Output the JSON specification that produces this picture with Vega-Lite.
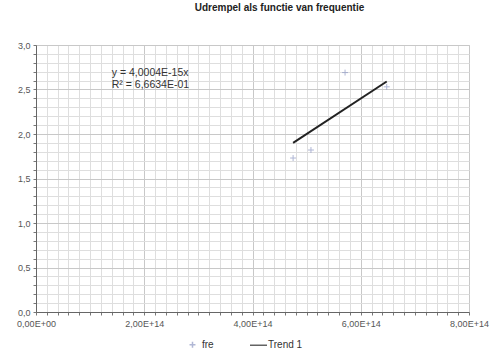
{
  "$schema": "https://vega.github.io/schema/vega-lite/v6.json",
  "width": 433,
  "height": 267,
  "autosize": "none",
  "padding": {"left": 36, "top": 45, "right": 24, "bottom": 44},
  "background": "white",
  "config": {"font": "Liberation Sans", "view": {"stroke": "#d0d0d0"}},
  "title": {"text": "Udrempel als functie van frequentie", "fontSize": 10, "fontWeight": "bold", "color": "#222", "offset": 28, "dx": 27},
  "datasets": {
    "points": [
      {"f": 4.75e14, "U": 1.73, "series": "fre"},
      {"f": 5.08e14, "U": 1.82, "series": "fre"},
      {"f": 5.71e14, "U": 2.69, "series": "fre"},
      {"f": 6.48e14, "U": 2.53, "series": "fre"}
    ],
    "trend": [
      {"f": 4.75e14, "U": 1.90},
      {"f": 6.48e14, "U": 2.59}
    ],
    "notes": [
      {"f": 1.4e14, "U": 2.69, "label": "y = 4,0004E-15x"},
      {"f": 1.4e14, "U": 2.55, "label": "R² = 6,6634E-01"}
    ]
  },
  "layer": [
    {
      "data": {"name": "points"},
      "mark": {"type": "point", "filled": false, "size": 289, "strokeWidth": 1},
      "encoding": {
        "x": {
          "field": "f", "type": "quantitative",
          "scale": {"domain": [0, 8e14], "nice": false},
          "axis": {
            "title": null, "tickCount": 40,
            "labelExpr": "round(datum.value/1e13) % 20 == 0 ? (datum.value == 0 ? '0,00E+00' : replace(format(datum.value/1e14, '.2f'), '.', ',') + 'E+14') : ''",
            "labelFontSize": 9, "labelColor": "#555", "labelPadding": 4, "labelFlush": false,
            "domainColor": "#666", "tickColor": "#777", "tickSize": 3,
            "gridColor": {"condition": {"test": "round(datum.value/1e13) % 20 == 0", "value": "#c8c8c8"}, "value": "#dedede"},
            "labelOverlap": false
          }
        },
        "y": {
          "field": "U", "type": "quantitative",
          "scale": {"domain": [0, 3], "nice": false},
          "axis": {
            "title": null, "tickCount": 30,
            "labelExpr": "round(datum.value*10) % 5 == 0 ? replace(format(datum.value, '.1f'), '.', ',') : ''",
            "labelFontSize": 9, "labelColor": "#555", "labelPadding": 3,
            "domainColor": "#666", "tickColor": "#777", "tickSize": 3,
            "gridColor": {"condition": {"test": "round(datum.value*10) % 5 == 0", "value": "#c8c8c8"}, "value": "#dedede"},
            "labelOverlap": false
          }
        },
        "color": {
          "field": "series", "type": "nominal",
          "scale": {"domain": ["fre", "Trend 1"], "range": ["#8f99c4", "#222222"]},
          "legend": {
            "title": null, "orient": "none", "direction": "horizontal",
            "legendX": 147, "legendY": 290, "columnPadding": 33,
            "labelFontSize": 10, "labelColor": "#333", "labelOffset": 0,
            "symbolSize": 289,
            "encode": {"symbols": {"update": {"strokeWidth": {"signal": "datum.value == 'Trend 1' ? 2 : 1"}}}}
          }
        },
        "shape": {
          "field": "series", "type": "nominal",
          "scale": {"domain": ["fre", "Trend 1"], "range": ["M-0.35,0H0.35M0,-0.35V0.35", "M-1,0H1"]},
          "legend": {
            "title": null, "orient": "none", "direction": "horizontal",
            "legendX": 147, "legendY": 290, "columnPadding": 33,
            "labelFontSize": 10, "labelColor": "#333", "labelOffset": 0,
            "symbolSize": 289,
            "encode": {"symbols": {"update": {"strokeWidth": {"signal": "datum.value == 'Trend 1' ? 2 : 1"}}}}
          }
        }
      }
    },
    {
      "data": {"name": "trend"},
      "mark": {"type": "line", "color": "#222222", "strokeWidth": 2},
      "encoding": {
        "x": {"field": "f", "type": "quantitative"},
        "y": {"field": "U", "type": "quantitative"}
      }
    },
    {
      "data": {"name": "notes"},
      "mark": {"type": "text", "align": "left", "baseline": "middle", "fontSize": 10.5, "color": "#333"},
      "encoding": {
        "x": {"field": "f", "type": "quantitative"},
        "y": {"field": "U", "type": "quantitative"},
        "text": {"field": "label"}
      }
    }
  ]
}
